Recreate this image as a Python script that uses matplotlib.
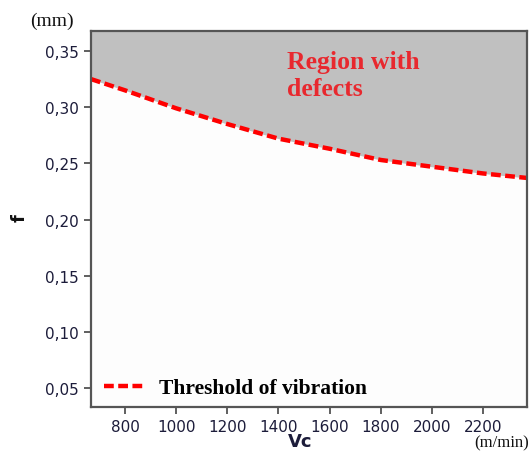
import matplotlib
matplotlib.use("Agg")
import matplotlib.pyplot as plt
import numpy as np

# Data
vc = [667, 800, 1000, 1200, 1400, 1600, 1800, 2000, 2200, 2372]
f_threshold = [0.325, 0.315, 0.299, 0.285, 0.272, 0.263, 0.253, 0.247, 0.241, 0.237]
x_ticks = [800, 1000, 1200, 1400, 1600, 1800, 2000, 2200]
y_ticks = [0.05, 0.10, 0.15, 0.20, 0.25, 0.30, 0.35]
y_tick_labels = ["0,05", "0,10", "0,15", "0,20", "0,25", "0,30", "0,35"]

fig = plt.figure(figsize=(5.32, 4.52), dpi=100)
ax = fig.add_axes([0.171, 0.0973, 0.8196, 0.8319])
ax.set_xlim(667, 2372)
ax.set_ylim(0.0331, 0.3678)
ax.set_facecolor("#fdfdfd")

ax.fill_between(vc, f_threshold, 0.3678, color="#c0c0c0", linewidth=0)
ax.plot(vc, f_threshold, color="#ff0000", linestyle=(0, (2.2, 1.0)), linewidth=3.2,
        label="Threshold of vibration")

ax.set_xticks(x_ticks)
ax.set_xticklabels([str(t) for t in x_ticks])
ax.set_yticks(y_ticks)
ax.set_yticklabels(y_tick_labels)
tick_color = "#1c1c3a"
ax.tick_params(axis="both", direction="out", length=5, width=1.2, color="#444444",
               labelsize=11, labelcolor=tick_color, pad=3.5)
for lab in ax.get_xticklabels() + ax.get_yticklabels():
    lab.set_family("DejaVu Sans")

for s in ax.spines.values():
    s.set_color("#555555")
    s.set_linewidth(1.6)

ax.text(1432, 0.3505, "Region with\ndefects", color="#e8282e", fontsize=18.5,
        fontweight="bold", family="Liberation Serif", va="top", ha="left",
        linespacing=1.2)

leg = ax.legend(loc="lower left", frameon=False,
                prop={"family": "Liberation Serif", "weight": "bold", "size": 15.5},
                handlelength=1.9, handletextpad=0.65, borderaxespad=0.0,
                bbox_to_anchor=(0.01, 0.0))

fig.text(30 / 532, 1 - 21 / 452, "(mm)", family="Liberation Serif", fontsize=14,
         ha="left", va="center", color="#111111")
fig.text(20 / 532, 1 - 218 / 452, "f", family="DejaVu Sans", fontweight="bold",
         fontsize=13, rotation=90, ha="center", va="center", color="#111111")
fig.text(300 / 532, 1 - 451 / 452, "Vc", family="DejaVu Sans", fontweight="bold",
         fontsize=13, ha="center", va="bottom", color="#1c1c3a")
fig.text(529 / 532, 1 - 451.5 / 452, "(m/min)", family="Liberation Serif", fontsize=12,
         ha="right", va="bottom", color="#111111")

fig.savefig("out.png", dpi=100, facecolor="white")
